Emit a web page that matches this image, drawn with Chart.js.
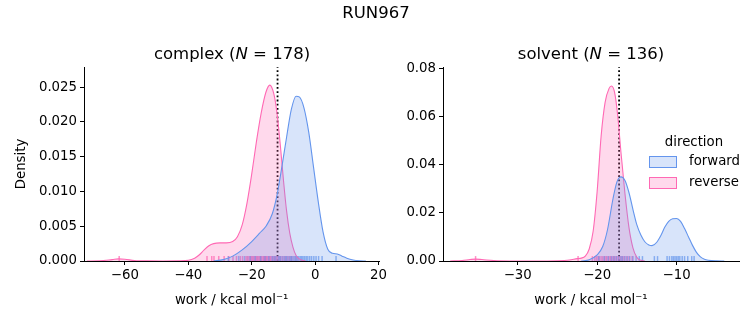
<!DOCTYPE html>
<html>
<head>
<meta charset="utf-8">
<script src="https://cdn.jsdelivr.net/npm/chart.js@4/dist/chart.umd.min.js"></script>
<style>
  body { margin: 0; background: #fff; font-family: "DejaVu Sans", sans-serif; color: #000; }
  #wrap { position: relative; width: 753px; height: 325px; overflow: hidden; }
  canvas { position: absolute; top: 0; }
  .txt { position: absolute; white-space: nowrap; line-height: 1; }
  .title { font-size: 16.5px; transform: translate(-50%, -50%); }
  .leg { font-size: 13.3px; }
  .sw { position: absolute; width: 26px; height: 9.5px; border: 1px solid; }
</style>
</head>
<body>
<div id="wrap">
  <canvas id="complex" width="390" height="325" style="left:0"></canvas>
  <canvas id="solvent" width="363" height="325" style="left:390px"></canvas>
  <div class="txt title" style="left:376px; top:13px">RUN967</div>
  <div class="txt title" style="left:232px; top:54px">complex (<i>N</i> = 178)</div>
  <div class="txt title" style="left:591px; top:54px">solvent (<i>N</i> = 136)</div>
  <div class="txt leg" style="left:694px; top:142px; transform: translate(-50%, -50%)">direction</div>
  <div class="sw" style="left:649px; top:156px; border-color:#6495ed; background:rgba(100,149,237,0.25)"></div>
  <div class="txt leg" style="left:689px; top:161px; transform: translateY(-50%)">forward</div>
  <div class="sw" style="left:649px; top:177px; border-color:#ff69b4; background:rgba(255,105,180,0.25)"></div>
  <div class="txt leg" style="left:689px; top:182px; transform: translateY(-50%)">reverse</div>
</div>
<script>
// KDE curves: x = work (kcal/mol), y = density
const complexForwardX = [-32, -29, -26, -23, -20, -17.5, -15.5, -13.5, -12, -10.5, -9, -7.5, -6, -5, -3.5, -2, -0.5, 1, 2.5, 4, 5.5, 7, 8.5, 10, 12, 14, 16];
const complexForwardY = [0, 0.0002, 0.0007, 0.0016, 0.0028, 0.0040, 0.0050, 0.0068, 0.0095, 0.0135, 0.0178, 0.0218, 0.0237, 0.0236, 0.0220, 0.0185, 0.0135, 0.0085, 0.0042, 0.0017, 0.0011, 0.0010, 0.0007, 0.0004, 0.00015, 0.00004, 0];

const complexReverseX = [-72, -68, -64, -62, -60, -57, -53, -48, -43, -40, -38, -36.5, -35, -33.5, -32, -30, -28, -26, -24.5, -23, -21.5, -20, -18.5, -17, -15.5, -14.3, -13, -12, -11, -10, -9, -8, -7, -6, -5, -4, -3];
const complexReverseY = [0, 0.00003, 0.0002, 0.0003, 0.00025, 0.00008, 0.00002, 0.00001, 0.00003, 0.0001, 0.0004, 0.0009, 0.0016, 0.0022, 0.0025, 0.0026, 0.0026, 0.0028, 0.0035, 0.0052, 0.0083, 0.0125, 0.0172, 0.0213, 0.0243, 0.0253, 0.0240, 0.0212, 0.0168, 0.0117, 0.0072, 0.0040, 0.0020, 0.0008, 0.0003, 0.0001, 0];

const solventForwardX = [-22, -21, -20, -19.3, -18.7, -18, -17.5, -17, -16.5, -16, -15.5, -15, -14.5, -14, -13.5, -13.1, -12.5, -12, -11.5, -11, -10.5, -10, -9.5, -9, -8.5, -8, -7.5, -7, -6.5, -6, -5, -4];
const solventForwardY = [0, 0.0005, 0.0025, 0.0060, 0.0130, 0.0260, 0.0330, 0.0350, 0.0335, 0.0285, 0.0215, 0.0150, 0.0108, 0.0080, 0.0067, 0.0064, 0.0078, 0.0105, 0.0140, 0.0165, 0.0176, 0.0177, 0.0165, 0.0135, 0.0100, 0.0065, 0.0036, 0.0017, 0.0007, 0.0003, 0.00005, 0];

const solventReverseX = [-38.5, -37, -36, -35.3, -34.5, -33, -31, -28, -25, -23.5, -22.5, -22, -21.5, -21, -20.5, -20, -19.5, -19, -18.5, -18.2, -17.8, -17.4, -17, -16.5, -16, -15.5, -15, -14.5, -14];
const solventReverseY = [0, 0.0002, 0.0006, 0.0008, 0.0006, 0.0002, 0.00003, 0, 0.0001, 0.0004, 0.0010, 0.0012, 0.0020, 0.0050, 0.0125, 0.0290, 0.0520, 0.0660, 0.0718, 0.0728, 0.0700, 0.0600, 0.0450, 0.0280, 0.0140, 0.0055, 0.0015, 0.0003, 0];

// individual work values (rug ticks)
const complexForwardWork = [-27.4, -24.1, -22.3, -20.5, -18.9, -17.2, -15.8, -14.6, -13.5, -12.9, -12.4, -11.6, -11.2, -10.8, -10.1, -9.5, -9.2, -8.9, -8.3, -7.8, -7.5, -7.3, -6.8, -6.4, -6.1, -5.9, -5.5, -5.1, -4.6, -4.2, -3.8, -3.3, -2.8, -2.3, -1.7, -1.1, -0.4, 0.3, 1.1, 2.2, 6.6];
const complexReverseWork = [-61.8, -34.1, -32.6, -31.9, -30.4, -28.7, -27.2, -25.9, -24.8, -23.6, -22.9, -21.8, -21.4, -21.1, -20.6, -20.3, -20.0, -19.7, -19.4, -19.1, -18.7, -18.4, -18.2, -17.9, -17.5, -17.3, -17.1, -16.8, -16.4, -16.2, -16.0, -15.7, -15.5, -15.3, -15.0, -14.6, -14.4, -14.2, -13.9, -13.5, -13.1, -12.7, -12.3, -11.9, -11.4, -10.9, -10.3, -9.6, -8.8, -8.1, -7.4];
const solventForwardWork = [-19.8, -19.1, -18.6, -18.2, -17.9, -17.6, -17.3, -17.0, -16.8, -16.5, -16.2, -15.9, -15.5, -15.1, -14.7, -14.3, -12.8, -12.4, -11.2, -10.9, -10.6, -10.4, -10.2, -10.0, -9.8, -9.6, -9.3, -9.0, -8.6, -8.1, -7.8];
const solventReverseWork = [-35.3, -22.4, -20.6, -20.3, -20.1, -19.9, -19.7, -19.5, -19.3, -19.1, -18.9, -18.8, -18.6, -18.4, -18.3, -18.1, -17.9, -17.8, -17.6, -17.4, -17.2, -17.0, -16.8, -16.6, -16.3, -16.0, -15.6];

// free energy estimate (dotted line)
const complexEstimate = [-11.85];
const solventEstimate = [-17.24];

// axis limits and ticks
const complexXRange = [-72.9, 20.2];
const complexYRange = [0, 0.0279];
const complexXTicks = [-60, -40, -20, 0, 20];
const complexYTicks = [0, 0.005, 0.01, 0.015, 0.02, 0.025];
const solventXRange = [-39.4, -2.15];
const solventYRange = [0, 0.0807];
const solventXTicks = [-30, -20, -10];
const solventYTicks = [0, 0.02, 0.04, 0.06, 0.08];

const BLUE = "#6495ed";
const PINK = "#ff69b4";
const FONT = { family: "DejaVu Sans", size: 13.3 };

function pts(xs, ys) {
  return xs.map((x, i) => ({ x: x, y: ys[i] }));
}

function minus(v, digits) {
  const s = digits == null ? String(Math.abs(v)) : Math.abs(v).toFixed(digits);
  return v < 0 ? "\u2212" + s : s;
}

function kde(xs, ys, color, fill) {
  return {
    type: "line",
    data: pts(xs, ys),
    borderColor: color,
    backgroundColor: fill,
    borderWidth: 1.1,
    fill: "origin",
    pointRadius: 0,
    cubicInterpolationMode: "monotone",
  };
}

function rug(work, yTop, color) {
  return {
    type: "scatter",
    data: work.map((w) => ({ x: w, y: yTop * 0.0125 })),
    pointStyle: "line",
    rotation: 90,
    radius: 2.5,
    borderWidth: 1.5,
    borderColor: color,
    backgroundColor: color,
  };
}

function estimateLine(v, yTop) {
  return {
    type: "line",
    data: [{ x: v, y: 0 }, { x: v, y: yTop }],
    borderColor: "#000",
    borderWidth: 1.8,
    borderDash: [1.8, 2.4],
    pointRadius: 0,
    fill: false,
  };
}

function makeChart(id, opt) {
  const ctx = document.getElementById(id).getContext("2d");
  return new Chart(ctx, {
    type: "line",
    data: {
      datasets: [
        kde(opt.fx, opt.fy, BLUE, "rgba(100,149,237,0.25)"),
        kde(opt.rx, opt.ry, PINK, "rgba(255,105,180,0.25)"),
        rug(opt.fw, opt.yRange[1], "rgba(100,149,237,0.7)"),
        rug(opt.rw, opt.yRange[1], "rgba(255,105,180,0.75)"),
        estimateLine(opt.est[0], opt.yRange[1]),
      ],
    },
    options: {
      responsive: false,
      animation: false,
      layout: { padding: { top: 67, right: opt.padRight, left: 0, bottom: 0 } },
      plugins: { legend: { display: false }, tooltip: { enabled: false } },
      scales: {
        x: {
          type: "linear",
          min: opt.xRange[0],
          max: opt.xRange[1],
          afterBuildTicks: (s) => { s.ticks = opt.xTicks.map((v) => ({ value: v })); },
          afterFit: (s) => { s.height = 64; },
          grid: { drawOnChartArea: false, tickLength: 4, color: "#000" },
          border: { color: "#000", width: 1 },
          ticks: { color: "#000", font: FONT, padding: 3, maxRotation: 0, callback: (v) => minus(v) },
          title: { display: true, text: "work / kcal mol\u207b\u00b9", color: "#000", font: FONT, padding: { top: 4, bottom: 16 } },
        },
        y: {
          type: "linear",
          min: opt.yRange[0],
          max: opt.yRange[1],
          afterBuildTicks: (s) => { s.ticks = opt.yTicks.map((v) => ({ value: v })); },
          afterFit: (s) => { s.width = opt.yWidth; },
          grid: { drawOnChartArea: false, tickLength: 4, color: "#000" },
          border: { color: "#000", width: 1 },
          ticks: { color: "#000", font: FONT, padding: 3, callback: (v) => v.toFixed(opt.yDigits) },
          title: { display: opt.yTitle != null, text: opt.yTitle, color: "#000", font: FONT, padding: { top: 14, bottom: 4 } },
        },
      },
    },
  });
}

makeChart("complex", {
  fx: complexForwardX, fy: complexForwardY,
  rx: complexReverseX, ry: complexReverseY,
  fw: complexForwardWork, rw: complexReverseWork,
  est: complexEstimate,
  xRange: complexXRange, yRange: complexYRange,
  xTicks: complexXTicks, yTicks: complexYTicks,
  yDigits: 3, yWidth: 84, padRight: 10, yTitle: "Density",
});

makeChart("solvent", {
  fx: solventForwardX, fy: solventForwardY,
  rx: solventReverseX, ry: solventReverseY,
  fw: solventForwardWork, rw: solventReverseWork,
  est: solventEstimate,
  xRange: solventXRange, yRange: solventYRange,
  xTicks: solventXTicks, yTicks: solventYTicks,
  yDigits: 2, yWidth: 53, padRight: 14, yTitle: null,
});
</script>
</body>
</html>
